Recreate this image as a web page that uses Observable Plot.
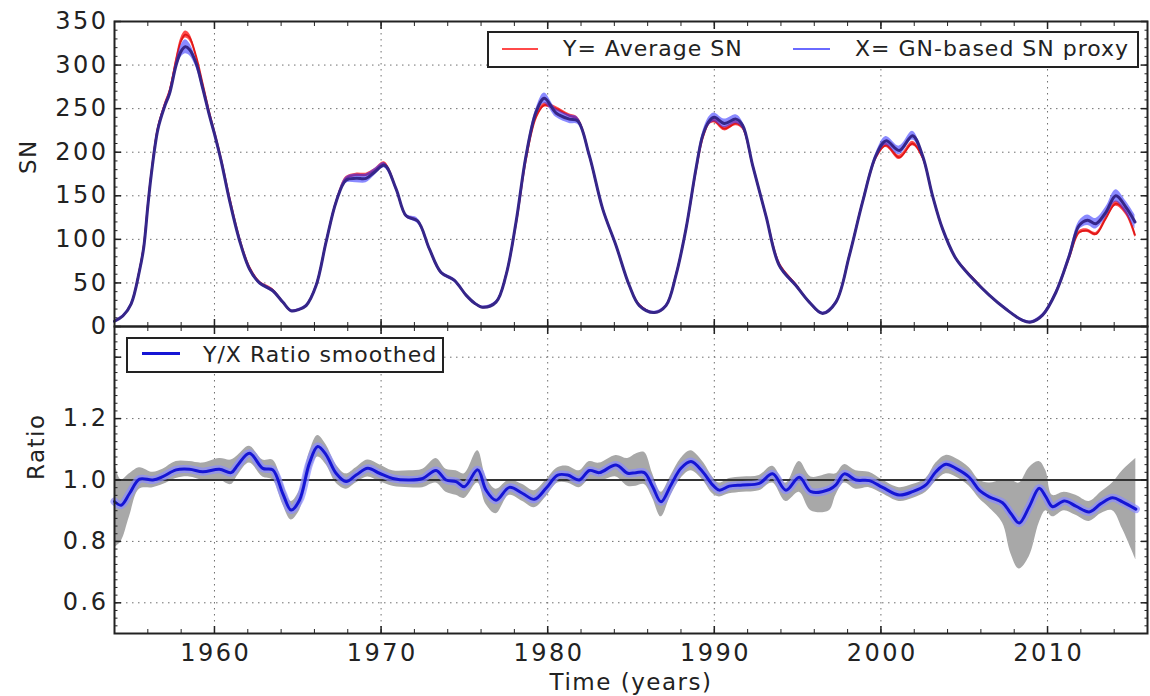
<!DOCTYPE html>
<html>
<head>
<meta charset="utf-8">
<script src="https://cdn.jsdelivr.net/npm/d3@7"></script>
<script src="https://cdn.jsdelivr.net/npm/@observablehq/plot@0.6"></script>
<style>
  body { margin: 0; background: #fff; font-family: "DejaVu Sans", sans-serif; color: #222; }
  #wrap { position: relative; width: 1150px; height: 696px; overflow: hidden; }
  .panel { position: absolute; left: 0; }
  .panel svg { overflow: visible; }
  .panel svg [aria-label$="tick label"] text { letter-spacing: 2.5px; }
  .panel svg .axis-title text { letter-spacing: 1.5px; }
  .legend { position: absolute; box-sizing: border-box; background: #fff; border: 2px solid #222; }
  .legend .swatch { position: absolute; }
  .legend .lbl { position: absolute; top: 0; font-size: 22px; line-height: 32px; letter-spacing: 1px; white-space: nowrap; color: #222; }
</style>
</head>
<body>
<div id="wrap">
  <div id="bottomPanel" class="panel" style="top:326px"></div>
  <div id="topPanel" class="panel" style="top:0"></div>
  <div class="legend" style="left:487px;top:31px;width:652px;height:37px;">
    <div class="swatch" style="left:13px;top:15px;width:36px;height:1.5px;background:#ff4a4a"></div>
    <div class="lbl" style="left:74px">Y= Average SN</div>
    <div class="swatch" style="left:304px;top:15px;width:37px;height:1.5px;background:#6a6aff"></div>
    <div class="lbl" style="left:366px">X= GN-based SN proxy</div>
  </div>
  <div class="legend" style="left:126px;top:337px;width:318px;height:36px;">
    <div class="swatch" style="left:14px;top:13px;width:38px;height:3px;background:#1515d5"></div>
    <div class="lbl" style="left:75px">Y/X Ratio smoothed</div>
  </div>
</div>
<script>
// Time axis
const xDomain = [1954, 2016];
const xMajor = [1960, 1970, 1980, 1990, 2000, 2010];
const xMinor = d3.range(1954, 2017, 2);

// Sunspot number panel
const snTicks = [0, 50, 100, 150, 200, 250, 300, 350];
const snMinor = d3.range(0, 351, 10);

const years = [
  1954.0, 1954.5, 1955.0, 1955.5, 1955.75, 1956.0, 1956.2, 1956.6, 1957.0, 1957.3,
  1957.7, 1958.0, 1958.25, 1958.5, 1958.9, 1959.3, 1959.7, 1960.0, 1960.4, 1960.9,
  1961.5, 1962.1, 1962.7, 1963.5, 1964.1, 1964.6, 1965.0, 1965.5, 1966.1, 1966.7,
  1967.3, 1967.9, 1968.5, 1969.1, 1969.6, 1970.2, 1970.9, 1971.5, 1972.2, 1972.9,
  1973.6, 1974.4, 1975.1, 1975.6, 1976.1, 1976.9, 1977.5, 1978.1, 1978.7, 1979.3,
  1979.8, 1980.5, 1981.3, 1981.8, 1982.5, 1983.3, 1984.1, 1984.9, 1985.5, 1986.4,
  1987.1, 1987.7, 1988.3, 1988.9, 1989.3, 1989.7, 1990.0, 1990.6, 1991.3, 1991.7,
  1992.3, 1993.1, 1993.9, 1994.9, 1995.7, 1996.5, 1997.3, 1998.1, 1998.9, 1999.7,
  2000.3, 2001.1, 2001.9, 2002.5, 2003.1, 2003.7, 2004.5, 2005.5, 2006.5, 2007.5,
  2008.5, 2009.0, 2009.7, 2010.5, 2011.3, 2011.9, 2012.4, 2012.9, 2013.5, 2014.1,
  2014.7, 2015.25
];

// Y = average SN
const avgSN = [
  6, 12, 26, 65, 92, 140, 175, 228, 254, 270,
  306, 328, 335, 332, 310, 278, 245, 223, 192, 148,
  101, 68, 51, 42, 28, 18, 19, 24, 47, 97,
  143, 170, 174, 174, 179, 187, 158, 127, 121, 89,
  62, 53, 36, 27, 22, 28, 59, 118, 192, 240,
  254, 250, 242, 238, 196, 135, 93, 47, 25, 16,
  24, 59, 112, 179, 216, 234, 236, 227, 233, 228,
  185, 127, 72, 48, 28, 15, 28, 81, 143, 194,
  208, 194, 210, 194, 150, 112, 78, 56, 36, 20,
  7, 5, 13, 39, 79, 108, 110, 106, 124, 141,
  131, 105
];
const avgSpread = [
  1, 1, 1, 1.5, 1.5, 1.5, 1.5, 1.5, 2, 2,
  3, 4, 4, 4, 3, 2, 2, 2, 1.5, 1.5,
  1.5, 1.5, 1.5, 1.5, 1, 1, 1, 1, 1.5, 1.5,
  1.5, 2, 2, 2, 2, 2, 1.5, 1.5, 1.5, 1.5,
  1.5, 1.5, 1, 1, 1, 1, 1.5, 1.5, 2, 2,
  2.5, 2.5, 2, 2, 1.5, 1.5, 1.5, 1.5, 1, 1,
  1, 1.5, 1.5, 2, 2, 2.5, 2.5, 2.5, 2.5, 2,
  1.5, 1.5, 1.5, 1.5, 1, 1, 1, 1.5, 1.5, 2,
  2.5, 2.5, 2.5, 2, 1.5, 1.5, 1.5, 1.5, 1, 1,
  1, 1, 1, 1.5, 1.5, 2, 2, 2, 2.5, 3,
  3, 3
];

// X = GN-based SN proxy
const gnSN = [
  6, 12, 26, 64, 90, 138, 173, 226, 252, 267,
  300, 316, 321, 318, 302, 273, 242, 221, 190, 145,
  99, 66, 50, 41, 28, 18, 19, 24, 47, 97,
  143, 168, 170, 170, 177, 185, 158, 127, 121, 89,
  62, 53, 36, 27, 22, 28, 59, 120, 196, 246,
  262, 245, 238, 236, 196, 135, 93, 47, 24, 16,
  24, 59, 112, 181, 219, 236, 240, 233, 238, 231,
  185, 127, 70, 47, 28, 15, 28, 81, 143, 196,
  213, 202, 219, 196, 150, 112, 78, 55, 36, 20,
  7, 5, 13, 39, 81, 116, 122, 118, 131, 150,
  137, 120
];
const gnSpread = [
  1.5, 1.5, 1.5, 2, 2, 2, 2, 2, 3, 3,
  5, 7, 8, 7, 5, 3, 2.5, 2.5, 2, 2,
  2, 2, 2, 2, 1.5, 1.5, 1.5, 1.5, 2, 2,
  2, 3.5, 5, 5, 4, 3, 2.5, 2, 3, 2,
  2, 2, 1.5, 1.5, 1.5, 1.5, 2, 2, 3, 4,
  6, 5, 5, 4, 2.5, 2, 2, 2, 1.5, 1.5,
  1.5, 2, 2, 3, 4, 5, 5, 5, 5, 4,
  2.5, 2, 2, 2, 1.5, 1.5, 1.5, 2, 2, 3,
  5, 5, 5, 3, 2, 2, 2, 2, 1.5, 1.5,
  1.5, 1.5, 1.5, 2, 3, 5, 6, 6, 6, 7,
  7, 8
];

// Ratio panel
const ratioTicks = [0.6, 0.8, 1.0, 1.2, 1.4];
const ratioLabels = [0.6, 0.8, 1.0, 1.2];
const ratioMinor = d3.range(0.5, 1.5001, 0.025);

const ratioYears = [
  1954.0, 1954.4, 1954.9, 1955.5, 1956.3, 1956.9, 1957.7, 1958.5, 1959.3, 1960.3,
  1961.0, 1961.4, 1962.1, 1962.9, 1963.5, 1964.1, 1964.6, 1965.1, 1965.7, 1966.2,
  1966.7, 1967.3, 1967.9, 1968.5, 1969.2, 1969.9, 1970.7, 1971.7, 1972.5, 1973.3,
  1973.9, 1974.5, 1975.0, 1975.8, 1976.3, 1976.9, 1977.7, 1978.5, 1979.2, 1979.9,
  1980.6, 1981.2, 1981.9, 1982.5, 1983.1, 1984.1, 1984.8, 1985.3, 1985.8, 1986.3,
  1986.8, 1987.4, 1988.0, 1988.6, 1989.3, 1989.9, 1990.3, 1990.9, 1991.7, 1992.7,
  1993.5, 1994.3, 1995.1, 1995.8, 1996.9, 1997.3, 1997.8, 1998.5, 1999.3, 2000.1,
  2001.1, 2001.9, 2002.7, 2003.3, 2003.9, 2004.5, 2005.3, 2005.9, 2006.5, 2007.3,
  2007.8, 2008.3, 2008.9, 2009.5, 2009.9, 2010.3, 2011.0, 2011.7, 2012.5, 2013.2,
  2013.9, 2014.5, 2015.3
];
const ratio = [
  0.930, 0.918, 0.956, 1.003, 1.000, 1.011, 1.033, 1.035, 1.027, 1.035,
  1.024, 1.049, 1.087, 1.038, 1.033, 0.956, 0.902, 0.934, 1.055, 1.109,
  1.082, 1.022, 0.995, 1.016, 1.038, 1.022, 1.005, 1.000, 1.005, 1.031,
  1.000, 0.995, 0.978, 1.033, 0.967, 0.934, 0.976, 0.956, 0.937, 0.973,
  1.016, 1.016, 1.000, 1.031, 1.024, 1.049, 1.022, 1.024, 1.024, 0.978,
  0.929, 0.984, 1.038, 1.060, 1.027, 0.984, 0.967, 0.980, 0.984, 0.989,
  1.020, 0.967, 1.009, 0.962, 0.969, 0.984, 1.020, 1.000, 0.998, 0.976,
  0.951, 0.962, 0.984, 1.027, 1.051, 1.038, 1.009, 0.967, 0.945, 0.926,
  0.891, 0.860, 0.913, 0.973, 0.945, 0.913, 0.932, 0.915, 0.896, 0.923,
  0.942, 0.929, 0.905
];
const ratioLo = [
  0.78, 0.80, 0.88, 0.97, 0.975, 0.985, 1.005, 1.01, 1.00, 1.00,
  0.985, 1.015, 1.055, 1.01, 1.00, 0.92, 0.87, 0.90, 1.02, 1.075,
  1.05, 0.99, 0.97, 0.99, 1.01, 0.995, 0.98, 0.975, 0.975, 0.99,
  0.96, 0.95, 0.94, 0.99, 0.92, 0.89, 0.95, 0.93, 0.91, 0.945,
  0.99, 0.99, 0.975, 1.00, 0.995, 1.01, 0.98, 0.98, 0.985, 0.94,
  0.88, 0.95, 1.005, 1.03, 1.00, 0.955, 0.945, 0.955, 0.96, 0.965,
  0.99, 0.93, 0.96, 0.90, 0.90, 0.95, 0.99, 0.97, 0.975, 0.955,
  0.93, 0.94, 0.96, 0.995, 1.02, 1.01, 0.98, 0.94, 0.91, 0.86,
  0.76, 0.71, 0.75, 0.86, 0.90, 0.88, 0.90, 0.885, 0.865, 0.89,
  0.90, 0.84, 0.74
];
const ratioHi = [
  1.06, 1.00, 1.02, 1.04, 1.025, 1.035, 1.06, 1.06, 1.055, 1.07,
  1.065, 1.08, 1.11, 1.065, 1.065, 0.99, 0.93, 0.965, 1.09, 1.145,
  1.115, 1.05, 1.02, 1.04, 1.065, 1.05, 1.03, 1.03, 1.035, 1.07,
  1.035, 1.03, 1.02, 1.095, 1.01, 0.97, 1.00, 0.985, 0.965, 1.00,
  1.04, 1.045, 1.03, 1.06, 1.055, 1.08, 1.07, 1.085, 1.09, 1.02,
  0.96, 1.015, 1.07, 1.095, 1.06, 1.01, 0.99, 1.005, 1.01, 1.015,
  1.045, 0.99, 1.06, 1.01, 1.02, 1.02, 1.05, 1.03, 1.025, 1.00,
  0.975, 0.985, 1.005, 1.055, 1.08, 1.07, 1.04, 1.00, 0.99, 1.00,
  1.00, 0.99, 1.04, 1.06, 1.03, 0.95, 0.96, 0.95, 0.93, 0.96,
  0.99, 1.03, 1.07
];

const snData = years.map((t, i) => ({
  t,
  avg: avgSN[i], avgLo: avgSN[i] - avgSpread[i], avgHi: avgSN[i] + avgSpread[i],
  gn: gnSN[i], gnLo: gnSN[i] - gnSpread[i], gnHi: gnSN[i] + gnSpread[i]
}));
const ratioData = ratioYears.map((t, i) => ({t, r: ratio[i], lo: ratioLo[i], hi: ratioHi[i]}));

const font = "'DejaVu Sans', sans-serif";
const tickFont = 24;
const gridStyle = {stroke: "#6e6e6e", strokeOpacity: 1, strokeWidth: 1, strokeDasharray: "1.5,4.5"};
const blank = () => "";
const curve = "catmull-rom";

// Inward-pointing tick marks on all four sides of a panel
function frameTicks(yMajor, yMinor) {
  const o = {tickFormat: blank, label: null, stroke: "#222"};
  return [
    Plot.axisY(yMajor, {...o, anchor: "left", tickSize: 7, dx: 7, strokeWidth: 1.5}),
    Plot.axisY(yMinor, {...o, anchor: "left", tickSize: 3.5, dx: 3.5}),
    Plot.axisY(yMajor, {...o, anchor: "right", tickSize: 7, dx: -7, strokeWidth: 1.5}),
    Plot.axisY(yMinor, {...o, anchor: "right", tickSize: 3.5, dx: -3.5}),
    Plot.axisX(xMajor, {...o, anchor: "top", tickSize: 7, dy: 7, strokeWidth: 1.5}),
    Plot.axisX(xMinor, {...o, anchor: "top", tickSize: 4, dy: 4}),
    Plot.axisX(xMajor, {...o, anchor: "bottom", tickSize: 7, dy: -7, strokeWidth: 1.5}),
    Plot.axisX(xMinor, {...o, anchor: "bottom", tickSize: 4, dy: -4})
  ];
}

const topChart = Plot.plot({
  width: 1150,
  height: 327,
  marginTop: 21,
  marginBottom: 1,
  marginLeft: 114,
  marginRight: 3,
  style: {fontFamily: font, background: "none", color: "#222", overflow: "visible"},
  x: {domain: xDomain},
  y: {domain: [0, 350]},
  marks: [
    Plot.gridX(xMajor, gridStyle),
    Plot.gridY(snTicks, gridStyle),
    Plot.areaY(snData, {x: "t", y1: "avgLo", y2: "avgHi", fill: "#ff2a2a", fillOpacity: 0.85, curve}),
    Plot.line(snData, {x: "t", y: "avg", stroke: "#e01818", strokeWidth: 1.8, curve}),
    Plot.areaY(snData, {x: "t", y1: "gnLo", y2: "gnHi", fill: "#3c3cff", fillOpacity: 0.6, curve}),
    Plot.line(snData, {x: "t", y: "gn", stroke: "#35268a", strokeWidth: 3, curve}),
    Plot.frame({stroke: "#222", strokeWidth: 2}),
    ...frameTicks(snTicks, snMinor),
    Plot.axisY(snTicks, {anchor: "left", tickSize: 0, tickPadding: 6, fontSize: tickFont, label: null}),
    Plot.text(["SN"], {frameAnchor: "left", dx: -86, rotate: -90, fontSize: 23, fill: "#222", className: "axis-title"})
  ]
});
document.getElementById("topPanel").append(topChart);

const bottomChart = Plot.plot({
  width: 1150,
  height: 370,
  marginTop: 0,
  marginBottom: 63,
  marginLeft: 114,
  marginRight: 3,
  style: {fontFamily: font, background: "none", color: "#222", overflow: "visible"},
  x: {domain: xDomain},
  y: {domain: [0.5, 1.5]},
  marks: [
    Plot.gridX(xMajor, gridStyle),
    Plot.gridY(ratioTicks, gridStyle),
    Plot.areaY(ratioData, {x: "t", y1: "lo", y2: "hi", fill: "#a8a8a8", curve}),
    Plot.ruleY([1], {stroke: "#333", strokeWidth: 2.2}),
    Plot.line(ratioData, {x: "t", y: "r", stroke: "#8c8cff", strokeOpacity: 0.7, strokeWidth: 8, curve}),
    Plot.line(ratioData, {x: "t", y: "r", stroke: "#1515d5", strokeWidth: 3, curve}),
    Plot.frame({stroke: "#222", strokeWidth: 2}),
    ...frameTicks(ratioTicks, ratioMinor),
    Plot.axisY(ratioLabels, {anchor: "left", tickSize: 0, tickPadding: 6, fontSize: tickFont, tickFormat: d3.format(".1f"), label: null}),
    Plot.axisX(xMajor, {anchor: "bottom", tickSize: 0, tickPadding: 10, dx: 1.25, fontSize: tickFont, tickFormat: d3.format("d"), label: null}),
    Plot.text(["Ratio"], {frameAnchor: "left", dx: -78, rotate: -90, fontSize: 23, fill: "#222", className: "axis-title"}),
    Plot.text(["Time (years)"], {frameAnchor: "bottom", dy: 56, fontSize: 23, fill: "#222", className: "axis-title"})
  ]
});
document.getElementById("bottomPanel").append(bottomChart);
</script>
</body>
</html>
